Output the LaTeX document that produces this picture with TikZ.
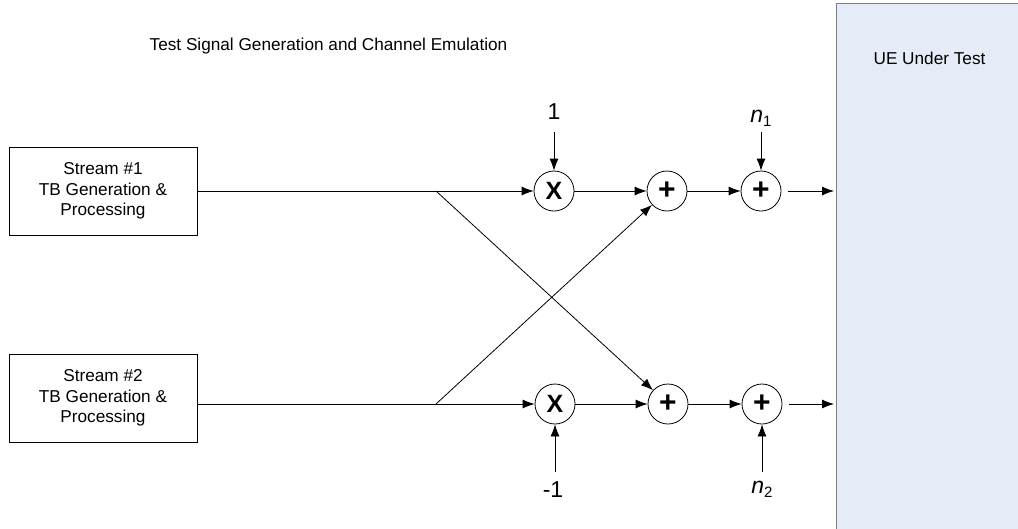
\documentclass[tikz,border=0pt]{standalone}
\usepackage{fontspec}
\setmainfont{Liberation Sans}
\usetikzlibrary{arrows.meta}
\definecolor{uefill}{HTML}{E6ECF7}
\definecolor{uedraw}{HTML}{7F7F7F}
\tikzset{
  arr/.style={-{Latex[length=12pt,width=9pt]}, line width=0.8pt},
  conn/.style={line width=0.8pt},
  procbox/.style={draw, line width=0.8pt, minimum width=188pt, minimum height=88pt, align=center, inner sep=0pt, font=\fontsize{17.2}{20.5}\selectfont},
  opcirc/.style={draw, circle, line width=0.8pt, minimum size=40pt, inner sep=0pt},
  xfont/.style={font=\fontsize{25}{25}\selectfont\bfseries},
  pfont/.style={font=\fontsize{30}{30}\selectfont\bfseries},
  lbl/.style={inner sep=0pt, font=\fontsize{23}{23}\selectfont},
  ttl/.style={inner sep=0pt, font=\fontsize{17.2}{17.2}\selectfont}
}
\begin{document}
\begin{tikzpicture}[x=1pt,y=-1pt]
\useasboundingbox (0,0) rectangle (1018,528);
% UE box
\draw[fill=uefill, draw=uedraw, line width=1pt] (836,3) rectangle (1030,540);
\node[ttl] (uet) at (929.5,58) {UE Under Test};
\node[ttl] (title) at (328.5,46) {Test Signal Generation and Channel Emulation};
% processing boxes
\node[procbox] (box1) at (103,191) {Stream \#1\\TB Generation \&\\Processing};
\node[procbox] (box2) at (103,398) {Stream \#2\\TB Generation \&\\Processing};
% operators
\node[opcirc, xfont] (m1) at (554,191) {X};
\node[opcirc, pfont] (a1) at (667,191) {+};
\node[opcirc, pfont] (b1) at (761,191) {+};
\node[opcirc, xfont] (m2) at (555,404) {X};
\node[opcirc, pfont] (a2) at (668,404) {+};
\node[opcirc, pfont] (b2) at (762,404) {+};
% coordinates
\coordinate (sp1) at (436,191);
\coordinate (sp2) at (436,404);
\coordinate (in1) at (554,132);
\coordinate (nin1) at (761,132);
\coordinate (in2) at (555,472);
\coordinate (nin2) at (762,472);
\coordinate (o1) at (834,191);
\coordinate (o2) at (834,404);
% labels
\node[lbl] (l1) at (554,112) {1};
\node[lbl] (ln1) at (761,118) {\itshape n\raisebox{-0.35ex}{\upshape\fontsize{15}{15}\selectfont 1}};
\node[lbl] (lm1) at (553,490) {-1};
\node[lbl] (ln2) at (762,489) {\itshape n\raisebox{-0.35ex}{\upshape\fontsize{15}{15}\selectfont 2}};
% connectors
\draw[conn] (box1.east |- sp1) -- (sp1);
\draw[conn] (box2.east |- sp2) -- (sp2);
\draw[arr] (sp1) -- (m1);
\draw[arr] (sp2) -- (m2);
\draw[arr] (sp1) -- (a2);
\draw[arr] (sp2) -- (a1);
\draw[arr] (m1) -- (a1);
\draw[arr] (a1) -- (b1);
\draw[arr] (m2) -- (a2);
\draw[arr] (a2) -- (b2);
\draw[arr] (in1) -- (m1);
\draw[arr] (nin1) -- (b1);
\draw[arr] (in2) -- (m2);
\draw[arr] (nin2) -- (b2);
\draw[arr, shorten <=7pt] (b1) -- (o1);
\draw[arr, shorten <=7pt] (b2) -- (o2);
\end{tikzpicture}
\end{document}
